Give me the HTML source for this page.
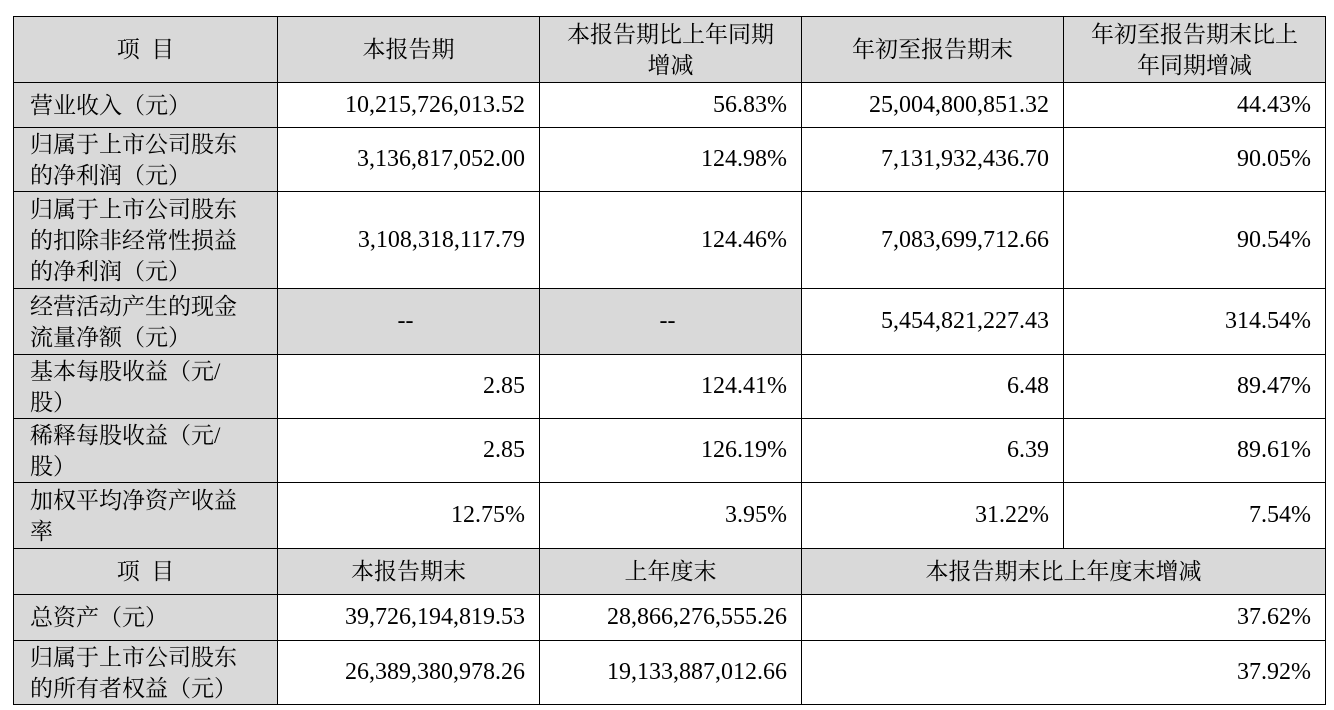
<!DOCTYPE html>
<html><head><meta charset="utf-8"><style>
body{margin:0;background:#fff;width:1334px;height:710px;overflow:hidden}
table{position:absolute;left:13px;top:16px;border-collapse:collapse;table-layout:fixed;font-family:"Liberation Serif","Noto Serif CJK SC",serif;font-size:23px;color:#000}
td{border:1.5px solid #000;padding:0 14px 0 8px;line-height:31px;text-align:right;vertical-align:middle;overflow:hidden;white-space:nowrap}
td.n{font-size:24px}
td.l{text-align:left;padding-left:16px;background:#d9d9d9}
td.c{text-align:center;background:#d9d9d9;padding:0}
td.g{background:#d9d9d9;text-align:center}
</style></head><body>
<table>
<colgroup><col style="width:264px"><col style="width:262px"><col style="width:262px"><col style="width:262px"><col style="width:262px"></colgroup>
<tr style="height:66px"><td class="c">项&nbsp; 目</td><td class="c">本报告期</td><td class="c">本报告期比上年同期<br>增减</td><td class="c">年初至报告期末</td><td class="c">年初至报告期末比上<br>年同期增减</td></tr>
<tr style="height:45px"><td class="l">营业收入（元）</td><td class="n">10,215,726,013.52</td><td class="n">56.83%</td><td class="n">25,004,800,851.32</td><td class="n">44.43%</td></tr>
<tr style="height:64px"><td class="l">归属于上市公司股东<br>的净利润（元）</td><td class="n">3,136,817,052.00</td><td class="n">124.98%</td><td class="n">7,131,932,436.70</td><td class="n">90.05%</td></tr>
<tr style="height:97px"><td class="l">归属于上市公司股东<br>的扣除非经常性损益<br>的净利润（元）</td><td class="n">3,108,318,117.79</td><td class="n">124.46%</td><td class="n">7,083,699,712.66</td><td class="n">90.54%</td></tr>
<tr style="height:66px"><td class="l">经营活动产生的现金<br>流量净额（元）</td><td class="g n">--</td><td class="g n">--</td><td class="n">5,454,821,227.43</td><td class="n">314.54%</td></tr>
<tr style="height:64px"><td class="l">基本每股收益（元/<br>股）</td><td class="n">2.85</td><td class="n">124.41%</td><td class="n">6.48</td><td class="n">89.47%</td></tr>
<tr style="height:64px"><td class="l">稀释每股收益（元/<br>股）</td><td class="n">2.85</td><td class="n">126.19%</td><td class="n">6.39</td><td class="n">89.61%</td></tr>
<tr style="height:66px"><td class="l">加权平均净资产收益<br>率</td><td class="n">12.75%</td><td class="n">3.95%</td><td class="n">31.22%</td><td class="n">7.54%</td></tr>
<tr style="height:46px"><td class="c">项&nbsp; 目</td><td class="c">本报告期末</td><td class="c">上年度末</td><td class="c" colspan="2">本报告期末比上年度末增减</td></tr>
<tr style="height:46px"><td class="l">总资产（元）</td><td class="n">39,726,194,819.53</td><td class="n">28,866,276,555.26</td><td class="n" colspan="2">37.62%</td></tr>
<tr style="height:64px"><td class="l">归属于上市公司股东<br>的所有者权益（元）</td><td class="n">26,389,380,978.26</td><td class="n">19,133,887,012.66</td><td class="n" colspan="2">37.92%</td></tr>
</table>
</body></html>
